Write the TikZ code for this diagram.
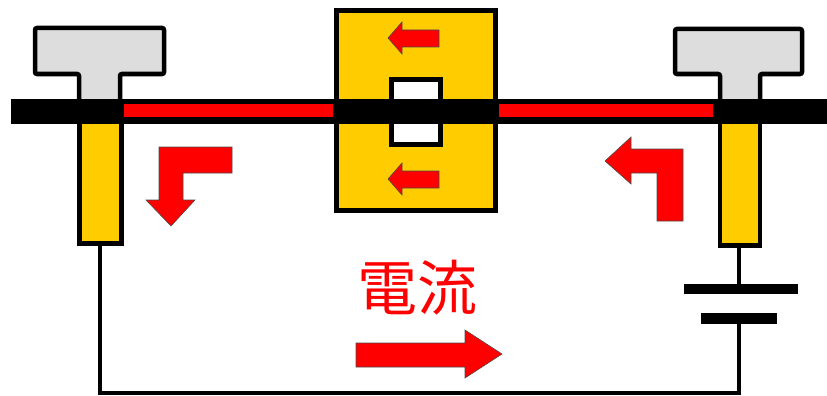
\documentclass[tikz,border=0pt]{standalone}
\usepackage{fontspec}
\newfontfamily\cjk{Noto Sans CJK JP}
\usepackage{tikz}
\definecolor{pole}{HTML}{FFCC00}
\definecolor{cap}{HTML}{DDDDDD}
\tikzset{
    part/.style={draw=black, line width=4.5pt, line join=miter},
    holder/.style={part, fill=cap, rounded corners=2pt},
    rod/.style={part, fill=pole},
    wire/.style={draw=black, line width=4pt},
    plate/.style={fill=black},
    flow/.style={fill=red, draw=black!70, line width=0.6pt, line join=miter}
}

\begin{document}
\begin{tikzpicture}[x=1pt, y=-1pt]
    \useasboundingbox (0,0) rectangle (827,396);
    % holders on both ends
    \draw[holder] (35,28) -- (164,28) -- (164,74) -- (120,74) -- (120,102)
        -- (79,102) -- (79,74) -- (35,74) -- cycle;
    \draw[holder] (675,29) -- (802,29) -- (802,74) -- (760,74) -- (760,102)
        -- (720,102) -- (720,74) -- (675,74) -- cycle;
    \draw[rod] (79.5,118) rectangle (121.5,243.5);
    \draw[rod] (720,118) rectangle (760,245.5);
    % sliding block with its window
    \draw[rod] (336.5,10.5) rectangle (495.5,210.5);
    \draw[part, fill=white] (391.5,79.5) rectangle (440.5,144.5);
    % the bar and the current in it
    \fill (11,99) rectangle (827,124);
    \fill[red] (124,104) rectangle (333,117);
    \fill[red] (499,104) rectangle (713,117);
    % arrows in the block
    \foreach \y in {38,179}
        \draw[flow] (388,\y) -- (402,\y-16) -- (402,\y-8) -- (439,\y-8)
            -- (439,\y+9) -- (402,\y+9) -- (402,\y+16) -- cycle;
    % bent arrows
    \draw[flow] (232,147) -- (159,147) -- (159,200) -- (146,200) -- (171,226)
        -- (195,200) -- (183,200) -- (183,173) -- (232,173) -- cycle;
    \draw[flow] (605,161) -- (631,137) -- (631,149) -- (683,149) -- (683,221)
        -- (657,221) -- (657,173) -- (631,173) -- (631,184) -- cycle;
    % circuit with battery
    \coordinate (lrod) at (100,245);
    \coordinate (rrod) at (739,247);
    \coordinate (plus) at (739,285);
    \coordinate (minus) at (739,323);
    \coordinate (corner) at (100,393);
    \draw[wire] (lrod) -- (corner) -| (minus);
    \draw[wire] (rrod) -- (plus);
    \fill[plate] (684,284) rectangle (798,294);
    \fill[plate] (701,313) rectangle (777,324);
    % label and main arrow
    \node[text=red, font=\cjk\fontsize{60}{60}\selectfont, inner sep=0pt] (label) at (417,288) {電流};
    \draw[flow] (356,343) -- (465,343) -- (465,330) -- (502,354) -- (465,378)
        -- (465,367) -- (356,367) -- cycle;
\end{tikzpicture}
\end{document}
